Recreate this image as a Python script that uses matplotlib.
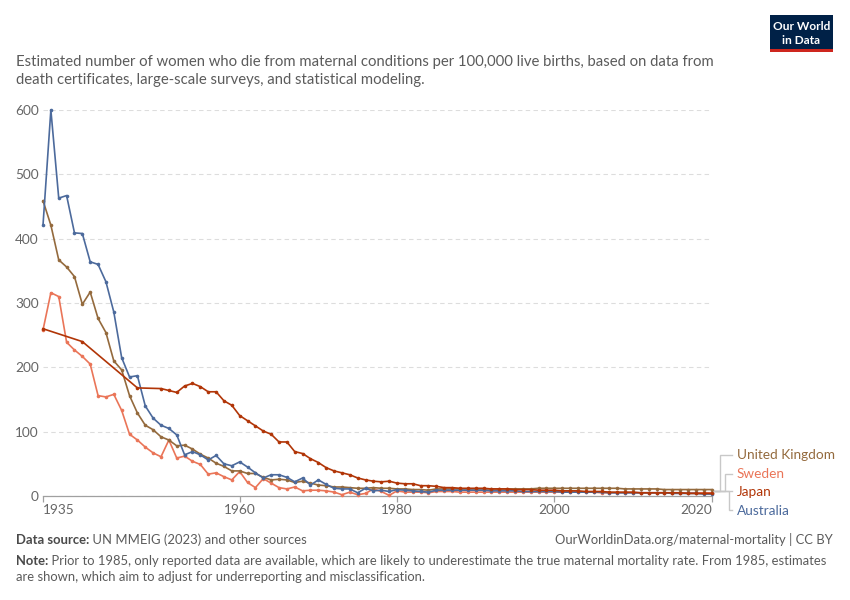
import matplotlib
matplotlib.use('Agg')
import matplotlib.pyplot as plt
from matplotlib.lines import Line2D
from matplotlib.patches import Rectangle

plt.rcParams['font.family'] = ['Lato', 'DejaVu Sans']

# ---------------- data ----------------
years = list(range(1935, 2021))

australia = [421, 600, 463, 467, 409, 408, 364, 360, 333, 286,
             215, 185, 187, 140, 121, 110, 105, 95, 64, 69,
             64, 56, 63, 50, 47, 53, 45, 36, 28, 33,
             33, 29, 22, 28, 17, 25, 18, 12, 11, 11,
             5, 12, 8, 9, 7, 10, 9, 8, 7, 6,
             9, 9, 9, 9, 9, 9, 9, 8, 8, 8, 8, 7, 7, 7, 7, 7, 6, 6,
             6, 6, 6, 6, 5, 5, 5, 5, 5, 5, 5, 5, 4, 4, 4, 4, 3, 3]

united_kingdom = [459, 421, 367, 356, 341, 298, 317, 276, 254, 210,
                  196, 156, 129, 110, 103, 92, 87, 78, 79, 73,
                  65, 59, 51, 46, 39, 39, 35, 35, 29, 25,
                  26, 25, 21, 23, 20, 17, 16, 14, 14, 13,
                  12, 12, 13, 12, 12, 11, 11, 10, 10, 9,
                  11, 11, 11, 11, 11, 11, 11, 11, 11, 11, 11, 11, 11, 12,
                  12, 12, 12, 12, 12, 12, 12, 12, 12, 12, 11, 11, 11, 11,
                  11, 10, 10, 10, 10, 10, 10, 10]

sweden = [258, 316, 310, 239, 227, 217, 205, 156, 154, 158,
          133, 96, 87, 76, 67, 61, 87, 59, 62, 54,
          49, 34, 36, 30, 25, 38, 21, 13, 27, 20,
          13, 11, 14, 8, 9, 9, 8, 6, 2, 6,
          2, 4, 11, 7, 1, 8, 6, 6, 6, 5,
          7, 7, 7, 6, 6, 6, 6, 6, 6, 6, 6, 6, 6, 6, 6, 6, 6, 6,
          6, 6, 6, 5, 5, 5, 5, 5, 5, 5, 5, 5, 5, 5, 5, 5, 5, 5]

japan_years = [1935, 1940, 1947] + list(range(1950, 2021))
japan = [260, 240, 168,
         167, 164, 161, 171, 175, 170, 162, 162, 148, 141,
         125, 117, 109, 101, 96, 84, 84, 69, 66, 58,
         52, 44, 39, 36, 33, 28, 25, 23, 22, 23,
         20, 19, 19, 16, 16,
         15, 13, 13, 12, 12, 12, 12, 11, 11, 11, 10, 10, 10, 9,
         9, 9, 8, 8, 8, 7, 7, 7, 6, 6, 6, 6, 5, 5, 5, 5, 5, 5,
         4, 4, 4, 4]

yticks = [0, 100, 200, 300, 400, 500, 600]
xticks = [1935, 1960, 1980, 2000, 2020]

UK_COL = "#946A3D"
SE_COL = "#EA7558"
JP_COL = "#B13507"
AU_COL = "#4C6A9C"

series = [
    ("Sweden", years, sweden, SE_COL),
    ("United Kingdom", years, united_kingdom, UK_COL),
    ("Australia", years, australia, AU_COL),
    ("Japan", japan_years, japan, JP_COL),
]

labels = [("United Kingdom", UK_COL, 455),
          ("Sweden", SE_COL, 474),
          ("Japan", JP_COL, 492),
          ("Australia", AU_COL, 511)]

# ---------------- figure ----------------
W, H = 850, 600
fig = plt.figure(figsize=(W / 100, H / 100), dpi=100)
fig.patch.set_facecolor('white')


def fx(x):
    return x / W


def fy(y):
    return 1 - y / H


ax = fig.add_axes([fx(43), fy(496), (711.7 - 43) / W, (496 - 110) / H])

for name, xs, ys, col in series:
    ax.plot(xs, ys, color=col, lw=1.2, marker='o', ms=2.6,
            markeredgewidth=0, zorder=3, clip_on=False)

ax.set_xlim(1935, 2020)
ax.set_ylim(0, 600)
for s in ['top', 'right', 'left']:
    ax.spines[s].set_visible(False)
ax.spines['bottom'].set_color('#a0a0a0')
ax.spines['bottom'].set_linewidth(0.9)

ax.set_yticks(yticks)
ax.set_yticklabels([str(v) for v in yticks])
ax.yaxis.grid(True, linestyle=(0, (4, 3)), color='#dddddd', lw=0.8)
ax.set_axisbelow(True)
ax.tick_params(axis='y', length=0, pad=3, labelsize=9.8, labelcolor='#666666')

ax.set_xticks(xticks)
ax.set_xticklabels([str(v) for v in xticks])
ax.tick_params(axis='x', length=4, width=0.9, color='#a0a0a0', pad=2,
               labelsize=9.8, labelcolor='#666666')
xt = ax.get_xticklabels()
xt[0].set_ha('left')
xt[-1].set_ha('right')

# connectors + labels
gray = '#c8c8c8'
paths = [
    [(714, 491), (720, 491), (720, 455), (732, 455)],
    [(714, 491), (725, 491), (725, 474), (732, 474)],
    [(714, 491), (732, 491)],
    [(714, 491), (729, 491), (729, 510), (732, 510)],
]
for p in paths:
    fig.add_artist(Line2D([fx(a) for a, b in p], [fy(b) for a, b in p],
                          color=gray, lw=1.0, solid_joinstyle='miter'))
for text, col, ypx in labels:
    fig.text(fx(737), fy(ypx), text, color=col, fontsize=9.8,
             va='center', ha='left')

# subtitle
sub_col = '#5b5b5b'
fig.text(fx(16), fy(62), "Estimated number of women who die from maternal conditions per 100,000 live births, based on data from",
         fontsize=10.7, color=sub_col, va='center', ha='left')
fig.text(fx(16), fy(80), "death certificates, large-scale surveys, and statistical modeling.",
         fontsize=10.7, color=sub_col, va='center', ha='left')

# logo
fig.add_artist(Rectangle((fx(770), fy(52)), 63 / W, 37 / H,
                         transform=fig.transFigure, facecolor='#002147',
                         edgecolor='none'))
fig.add_artist(Rectangle((fx(770), fy(52)), 63 / W, 3 / H,
                         transform=fig.transFigure, facecolor='#ce261e',
                         edgecolor='none'))
fig.text(fx(801.5), fy(27), "Our World", color='white', fontsize=8.6,
         fontweight='bold', ha='center', va='center')
fig.text(fx(801.5), fy(40), "in Data", color='white', fontsize=8.6,
         fontweight='bold', ha='center', va='center')

# footer
foot_col = '#5b5b5b'
fs = 9.4
renderer = fig.canvas.get_renderer()


def bold_then_normal(xpx, ypx, bold, rest):
    t = fig.text(fx(xpx), fy(ypx), bold, fontsize=fs, fontweight='bold',
                 color='#4a4a4a', va='center', ha='left')
    bb = t.get_window_extent(renderer=renderer)
    fig.text(bb.x1 / W, fy(ypx), rest, fontsize=fs, color=foot_col,
             va='center', ha='left')


bold_then_normal(16, 540, "Data source:", " UN MMEIG (2023) and other sources")
fig.text(fx(833), fy(540), "OurWorldinData.org/maternal-mortality | CC BY",
         fontsize=fs, color=foot_col, va='center', ha='right')
bold_then_normal(16, 561, "Note:", " Prior to 1985, only reported data are available, which are likely to underestimate the true maternal mortality rate. From 1985, estimates")
fig.text(fx(16), fy(577), "are shown, which aim to adjust for underreporting and misclassification.",
         fontsize=fs, color=foot_col, va='center', ha='left')

fig.savefig('out.png', dpi=100, facecolor='white')
